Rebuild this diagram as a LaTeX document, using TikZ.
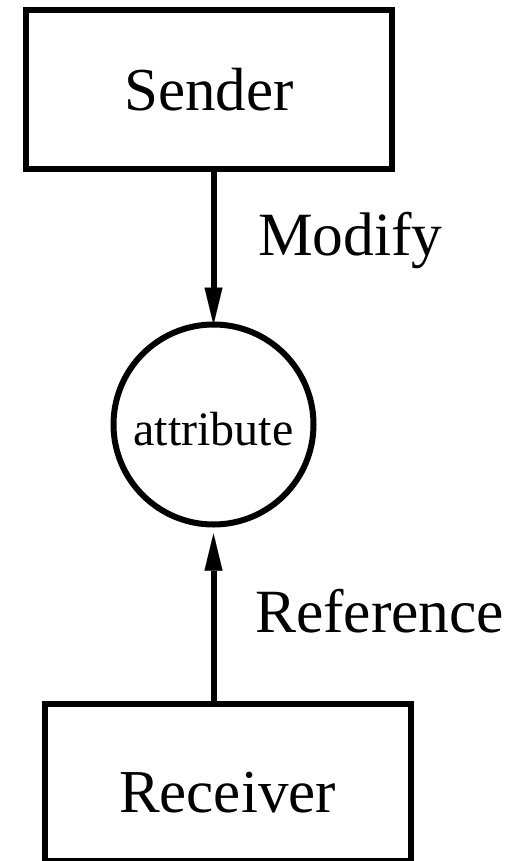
\documentclass[tikz,border=0pt]{standalone}
\usepackage{fontspec}
\setmainfont{Liberation Serif}
\usetikzlibrary{arrows.meta}
\begin{document}
\begin{tikzpicture}[x=1pt,y=-1pt,
  every node/.style={inner sep=0pt,outer sep=0pt},
  thick line/.style={line width=6pt},
  agentbox/.style={thick line,draw,rectangle,minimum width=366pt,font=\fontsize{61}{61}\selectfont},
  datacircle/.style={thick line,draw,circle,minimum size=200pt,font=\fontsize{48}{48}\selectfont},
  flowlabel/.style={anchor=base west,font=\fontsize{61.5}{61.5}\selectfont},
  flow/.style={line width=6pt,-{Triangle[length=37pt,width=18pt,line width=0.01pt]}}]
\useasboundingbox (0,0) rectangle (517,861);

% actors and the shared attribute
\node[agentbox,minimum height=159pt] (S) at (209,89.5) {Sender};
\node[datacircle,text height=41pt,text depth=0pt] (A) at (213.5,424.5) {attribute};
\node[agentbox,minimum height=157pt,text height=60pt,text depth=0pt] (R) at (227.5,782) {Receiver};

% accesses to the attribute
\draw[flow] (A.north |- S.south) -- (A.north);
\draw[flow,shorten >=9pt] (A.south |- R.north) -- (A.south);

\node[flowlabel] (mod) at (258,255) {Modify};
\node[flowlabel] (ref) at (255,632) {Reference};
\end{tikzpicture}
\end{document}
